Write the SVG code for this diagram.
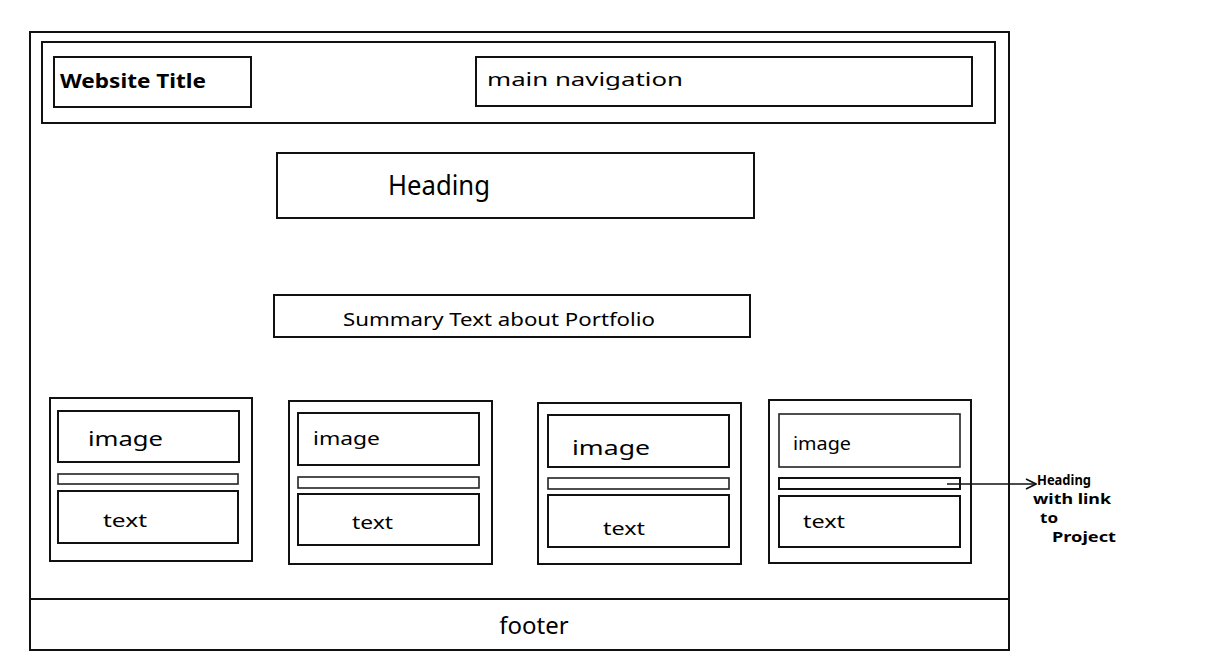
<svg xmlns="http://www.w3.org/2000/svg" width="1216" height="658" viewBox="0 0 1216 658">
<defs>
<style>
.box{fill:none;stroke:#111;stroke-width:2}
.thin{fill:none;stroke:#222;stroke-width:1.6}
.t{font-family:"Noto Sans","DejaVu Sans",sans-serif;fill:#000}
.note{font-family:"Noto Sans","DejaVu Sans",sans-serif;fill:#000;font-size:13.5px;font-weight:bold}
.arrow{stroke:#111;stroke-width:1.6;fill:none}
</style>
<marker id="open" viewBox="0 0 12 12" refX="11" refY="6" markerWidth="12" markerHeight="12" markerUnits="userSpaceOnUse" orient="auto">
<path d="M1,1 L11,6 L1,11" fill="none" stroke="#111" stroke-width="1.6"/>
</marker>
</defs>
<rect width="1216" height="658" fill="#fff"/>

<g id="page">
<rect class="box" x="30" y="32" width="979" height="618"/>
</g>
<g id="header">
<rect class="box" x="42" y="42" width="953" height="81"/>
</g>
<g id="website-title">
<rect class="box" x="54" y="57" width="197" height="50"/>
<text class="t" x="60" y="88" font-size="20" font-weight="bold" textLength="146" lengthAdjust="spacingAndGlyphs">Website Title</text>
</g>
<g id="main-navigation">
<rect class="box" x="476" y="57" width="496" height="49"/>
<text class="t" x="487" y="86" font-size="18" textLength="196" lengthAdjust="spacingAndGlyphs">main navigation</text>
</g>
<g id="heading">
<rect class="box" x="277" y="153" width="477" height="65"/>
<text class="t" x="388" y="195" font-size="28" textLength="102" lengthAdjust="spacingAndGlyphs">Heading</text>
</g>
<g id="summary">
<rect class="box" x="274" y="295" width="476" height="42"/>
<text class="t" x="343" y="326" font-size="18" textLength="312" lengthAdjust="spacingAndGlyphs">Summary Text about Portfolio</text>
</g>

<g id="card1">
<rect class="box" x="50" y="398" width="202" height="163"/>
<rect class="box" x="58" y="411" width="181" height="51"/>
<text class="t" x="88" y="446" font-size="19" textLength="75" lengthAdjust="spacingAndGlyphs">image</text>
<rect class="thin" x="58" y="474" width="180" height="10"/>
<rect class="box" x="58" y="491" width="180" height="52"/>
<text class="t" x="103" y="527" font-size="18" textLength="44" lengthAdjust="spacingAndGlyphs">text</text>
</g>
<g id="card2">
<rect class="box" x="289" y="401" width="203" height="163"/>
<rect class="box" x="298" y="413" width="181" height="52"/>
<text class="t" x="313" y="445" font-size="18" textLength="67" lengthAdjust="spacingAndGlyphs">image</text>
<rect class="thin" x="298" y="477" width="181" height="11"/>
<rect class="box" x="298" y="494" width="181" height="51"/>
<text class="t" x="352" y="529" font-size="18" textLength="41" lengthAdjust="spacingAndGlyphs">text</text>
</g>
<g id="card3">
<rect class="box" x="538" y="403" width="203" height="161"/>
<rect class="box" x="548" y="415" width="181" height="52"/>
<text class="t" x="572" y="455" font-size="19" textLength="78" lengthAdjust="spacingAndGlyphs">image</text>
<rect class="thin" x="548" y="478" width="181" height="11"/>
<rect class="box" x="548" y="495" width="181" height="52"/>
<text class="t" x="603" y="535" font-size="18" textLength="42" lengthAdjust="spacingAndGlyphs">text</text>
</g>
<g id="card4">
<rect class="box" x="769" y="400" width="202" height="163"/>
<rect class="thin" x="779" y="414" width="181" height="53"/>
<text class="t" x="793" y="450" font-size="18" textLength="58" lengthAdjust="spacingAndGlyphs">image</text>
<rect class="box" x="779" y="478" width="181" height="11"/>
<rect class="box" x="779" y="496" width="181" height="51"/>
<text class="t" x="803" y="528" font-size="18" textLength="42" lengthAdjust="spacingAndGlyphs">text</text>
</g>

<g id="footer">
<line class="box" x1="30" y1="599" x2="1009" y2="599"/>
<text class="t" x="534" y="634" font-size="24" text-anchor="middle">footer</text>
</g>

<g id="connectors">
<line class="arrow" x1="947" y1="484" x2="1036" y2="484" marker-end="url(#open)"/>
</g>

<g id="annotation">
<text class="note" x="1037" y="485" textLength="54" lengthAdjust="spacingAndGlyphs">Heading</text>
<text class="note" x="1033" y="504" textLength="78" lengthAdjust="spacingAndGlyphs">with link</text>
<text class="note" x="1040" y="523" textLength="18" lengthAdjust="spacingAndGlyphs">to</text>
<text class="note" x="1052" y="542" textLength="64" lengthAdjust="spacingAndGlyphs">Project</text>
</g>
</svg>
